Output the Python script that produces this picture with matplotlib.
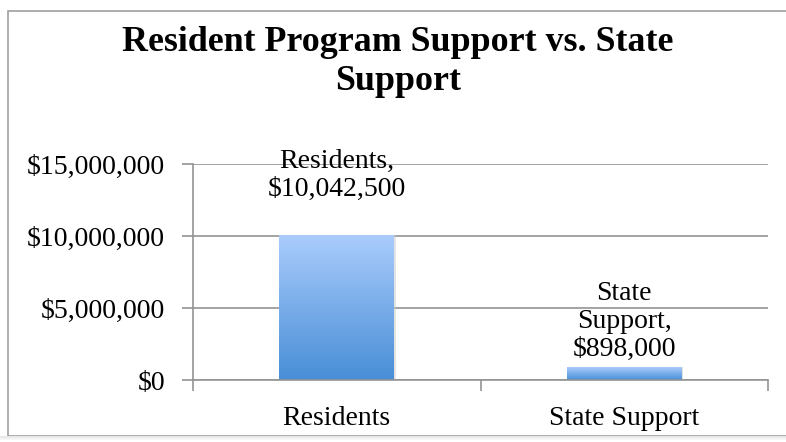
import numpy as np
import matplotlib
matplotlib.use('Agg')
import matplotlib.pyplot as plt
from matplotlib.patches import Rectangle
from matplotlib.ticker import FuncFormatter

categories = ['Residents', 'State Support']
values = [10042500, 898000]
point_labels = ['Residents,\n$10,042,500', 'State\nSupport,\n$898,000']
y_ticks = [0, 5000000, 10000000, 15000000]
title = 'Resident Program Support vs. State\nSupport'

plt.rcParams['font.family'] = ['Liberation Serif', 'DejaVu Serif']

fig = plt.figure(figsize=(7.86, 4.42), dpi=100)
W, H = 786, 442

# chart frame (top and left edges, shadow at bottom)
frame = Rectangle((8 / W, (H - 436) / H), 1.2, (436 - 11) / H, transform=fig.transFigure,
                  facecolor='none', edgecolor='#a0a0a0', linewidth=1.2, zorder=-1)
fig.patches.append(frame)
for i, c in enumerate(['#e6e6e6', '#ececec', '#f2f2f2', '#f7f7f7']):
    fig.patches.append(Rectangle((0, (H - 437 - i) / H), 1, 1 / H, transform=fig.transFigure,
                                 facecolor=c, edgecolor='none', zorder=-1))

ax = fig.add_axes([193 / W, 1 - 380 / H, (768 - 193) / W, (380 - 164) / H])
ax.set_facecolor('none')

x = np.arange(len(categories))
bars = ax.bar(x, values, width=0.4, color='#7aaee8', zorder=2)

# vertical gradient inside each bar
grad = np.linspace(0, 1, 256).reshape(-1, 1)
top = np.array([170, 204, 252]) / 255
bot = np.array([72, 142, 214]) / 255
img = top + (bot - top) * grad[..., None]
img = img.reshape(256, 1, 3)
for b in bars:
    x0, w, h = b.get_x(), b.get_width(), b.get_height()
    # soft shadow
    ax.add_patch(Rectangle((x0 + 0.006, 0), w, h, facecolor='#c8c8c8', edgecolor='none',
                           alpha=0.5, zorder=1.5))
    im = ax.imshow(img, extent=[x0, x0 + w, 0, h], aspect='auto', zorder=2.5,
                   interpolation='bilinear')
    im.set_clip_path(b)

ax.set_xlim(-0.5, 1.5)
ax.set_ylim(0, 15000000)
ax.set_yticks(y_ticks)
ax.yaxis.set_major_formatter(FuncFormatter(lambda v, p: '${:,.0f}'.format(v)))
ax.set_xticks(x)
ax.set_xticklabels(categories)
ax.set_xticks([-0.5, 0.5, 1.5], minor=True)
ax.tick_params(axis='x', which='major', length=0, pad=19, labelsize=20)
ax.tick_params(axis='x', which='minor', length=8, color='#939393', width=1.2, direction='out')
ax.tick_params(axis='y', length=8, color='#939393', width=1.2, pad=12, labelsize=20)
ax.grid(axis='y', color='#939393', linewidth=1.2, zorder=0)
ax.set_axisbelow(True)
for s in ['top', 'right']:
    ax.spines[s].set_visible(False)
for s in ['left', 'bottom']:
    ax.spines[s].set_color('#939393')
    ax.spines[s].set_linewidth(1.2)

offsets = [24, 4]
for xi, v, lab, off in zip(x, values, point_labels, offsets):
    ax.annotate(lab, (xi, v), xytext=(0, off), textcoords='offset points',
                ha='center', va='bottom', fontsize=20, linespacing=1.15, zorder=5)

fig.text(398 / W, 1 - 62 / H, title, ha='center', va='center', fontsize=25.8,
         fontweight='bold', linespacing=1.25)

fig.savefig('out.png', dpi=100)
